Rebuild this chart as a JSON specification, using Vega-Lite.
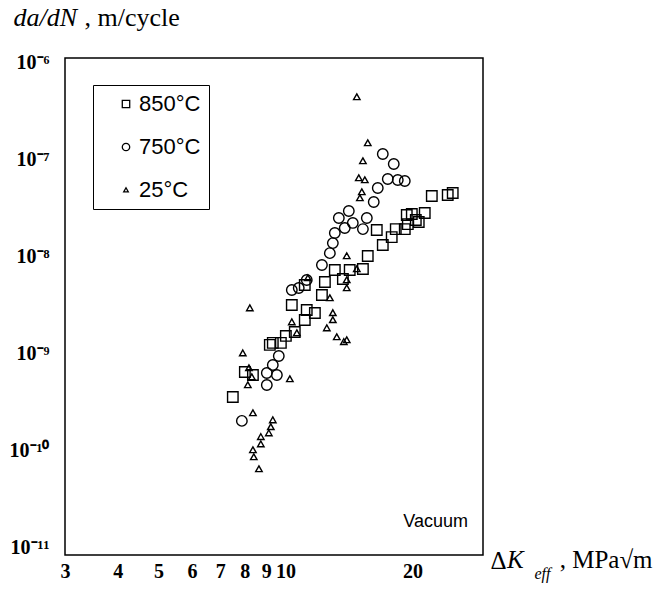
{
  "$schema": "https://vega.github.io/schema/vega-lite/v6.json",
  "width": 418,
  "height": 497,
  "autosize": {"type": "none"},
  "padding": {"left": 65, "top": 58, "right": 184, "bottom": 40},
  "background": "white",
  "config": {
    "view": {"stroke": "black", "strokeWidth": 1.5},
    "axis": {"grid": false, "domain": false, "ticks": false}
  },
  "resolve": {"axis": {"x": "independent", "y": "independent"}},
  "layer": [
    {
      "data": {"values": [
        {"dk": 7.50, "dadn": 3.58e-10, "t": "850°C"},
        {"dk": 8.01, "dadn": 6.47e-10, "t": "850°C"},
        {"dk": 8.37, "dadn": 6.02e-10, "t": "850°C"},
        {"dk": 9.18, "dadn": 1.23e-9, "t": "850°C"},
        {"dk": 9.33, "dadn": 1.29e-9, "t": "850°C"},
        {"dk": 9.75, "dadn": 1.29e-9, "t": "850°C"},
        {"dk": 10.02, "dadn": 1.52e-9, "t": "850°C"},
        {"dk": 10.52, "dadn": 1.67e-9, "t": "850°C"},
        {"dk": 11.11, "dadn": 2.22e-9, "t": "850°C"},
        {"dk": 11.23, "dadn": 2.81e-9, "t": "850°C"},
        {"dk": 11.74, "dadn": 2.62e-9, "t": "850°C"},
        {"dk": 10.35, "dadn": 3.16e-9, "t": "850°C"},
        {"dk": 12.20, "dadn": 4.01e-9, "t": "850°C"},
        {"dk": 11.11, "dadn": 5.08e-9, "t": "850°C"},
        {"dk": 12.40, "dadn": 5.45e-9, "t": "850°C"},
        {"dk": 13.09, "dadn": 7.25e-9, "t": "850°C"},
        {"dk": 14.20, "dadn": 7.25e-9, "t": "850°C"},
        {"dk": 15.26, "dadn": 7.42e-9, "t": "850°C"},
        {"dk": 13.68, "dadn": 5.85e-9, "t": "850°C"},
        {"dk": 15.67, "dadn": 1.01e-8, "t": "850°C"},
        {"dk": 17.01, "dadn": 1.31e-8, "t": "850°C"},
        {"dk": 16.46, "dadn": 1.87e-8, "t": "850°C"},
        {"dk": 17.86, "dadn": 1.58e-8, "t": "850°C"},
        {"dk": 18.26, "dadn": 1.91e-8, "t": "850°C"},
        {"dk": 19.18, "dadn": 1.91e-8, "t": "850°C"},
        {"dk": 19.50, "dadn": 2.15e-8, "t": "850°C"},
        {"dk": 19.39, "dadn": 2.67e-8, "t": "850°C"},
        {"dk": 19.93, "dadn": 2.73e-8, "t": "850°C"},
        {"dk": 20.37, "dadn": 2.37e-8, "t": "850°C"},
        {"dk": 20.70, "dadn": 2.26e-8, "t": "850°C"},
        {"dk": 21.39, "dadn": 2.80e-8, "t": "850°C"},
        {"dk": 22.23, "dadn": 4.18e-8, "t": "850°C"},
        {"dk": 24.25, "dadn": 4.28e-8, "t": "850°C"},
        {"dk": 24.92, "dadn": 4.49e-8, "t": "850°C"},
        {"dk": 7.88, "dadn": 2.03e-10, "t": "750°C"},
        {"dk": 9.03, "dadn": 4.75e-10, "t": "750°C"},
        {"dk": 9.03, "dadn": 6.32e-10, "t": "750°C"},
        {"dk": 9.54, "dadn": 6.02e-10, "t": "750°C"},
        {"dk": 9.33, "dadn": 7.63e-10, "t": "750°C"},
        {"dk": 9.64, "dadn": 9.45e-10, "t": "750°C"},
        {"dk": 10.35, "dadn": 4.51e-9, "t": "750°C"},
        {"dk": 10.75, "dadn": 4.73e-9, "t": "750°C"},
        {"dk": 11.23, "dadn": 5.72e-9, "t": "750°C"},
        {"dk": 12.20, "dadn": 8.15e-9, "t": "750°C"},
        {"dk": 12.74, "dadn": 1.08e-8, "t": "750°C"},
        {"dk": 12.95, "dadn": 1.37e-8, "t": "750°C"},
        {"dk": 13.09, "dadn": 1.74e-8, "t": "750°C"},
        {"dk": 13.38, "dadn": 2.48e-8, "t": "750°C"},
        {"dk": 13.82, "dadn": 1.96e-8, "t": "750°C"},
        {"dk": 14.13, "dadn": 2.93e-8, "t": "750°C"},
        {"dk": 14.44, "dadn": 2.21e-8, "t": "750°C"},
        {"dk": 15.26, "dadn": 1.91e-8, "t": "750°C"},
        {"dk": 15.59, "dadn": 2.48e-8, "t": "750°C"},
        {"dk": 16.19, "dadn": 3.63e-8, "t": "750°C"},
        {"dk": 16.55, "dadn": 5.05e-8, "t": "750°C"},
        {"dk": 17.01, "dadn": 1.131e-7, "t": "750°C"},
        {"dk": 18.06, "dadn": 8.92e-8, "t": "750°C"},
        {"dk": 17.48, "dadn": 6.25e-8, "t": "750°C"},
        {"dk": 18.46, "dadn": 6.11e-8, "t": "750°C"},
        {"dk": 19.18, "dadn": 5.97e-8, "t": "750°C"},
        {"dk": 14.76, "dadn": 4.36e-7, "t": "25°C"},
        {"dk": 15.67, "dadn": 1.468e-7, "t": "25°C"},
        {"dk": 15.26, "dadn": 9.58e-8, "t": "25°C"},
        {"dk": 14.92, "dadn": 6.41e-8, "t": "25°C"},
        {"dk": 15.42, "dadn": 6.11e-8, "t": "25°C"},
        {"dk": 15.17, "dadn": 4.60e-8, "t": "25°C"},
        {"dk": 15.01, "dadn": 3.99e-8, "t": "25°C"},
        {"dk": 13.97, "dadn": 1.01e-8, "t": "25°C"},
        {"dk": 14.76, "dadn": 7.42e-9, "t": "25°C"},
        {"dk": 13.97, "dadn": 5.72e-9, "t": "25°C"},
        {"dk": 13.97, "dadn": 4.73e-9, "t": "25°C"},
        {"dk": 12.74, "dadn": 3.73e-9, "t": "25°C"},
        {"dk": 11.30, "dadn": 5.99e-9, "t": "25°C"},
        {"dk": 12.95, "dadn": 2.62e-9, "t": "25°C"},
        {"dk": 12.95, "dadn": 2.22e-9, "t": "25°C"},
        {"dk": 12.53, "dadn": 1.83e-9, "t": "25°C"},
        {"dk": 13.23, "dadn": 1.48e-9, "t": "25°C"},
        {"dk": 13.97, "dadn": 1.38e-9, "t": "25°C"},
        {"dk": 13.75, "dadn": 1.32e-9, "t": "25°C"},
        {"dk": 10.35, "dadn": 2.11e-9, "t": "25°C"},
        {"dk": 10.64, "dadn": 1.63e-9, "t": "25°C"},
        {"dk": 8.23, "dadn": 2.94e-9, "t": "25°C"},
        {"dk": 7.92, "dadn": 1.01e-9, "t": "25°C"},
        {"dk": 8.19, "dadn": 7.11e-10, "t": "25°C"},
        {"dk": 8.32, "dadn": 5.74e-10, "t": "25°C"},
        {"dk": 8.14, "dadn": 4.75e-10, "t": "25°C"},
        {"dk": 10.24, "dadn": 5.48e-10, "t": "25°C"},
        {"dk": 8.37, "dadn": 2.45e-10, "t": "25°C"},
        {"dk": 9.33, "dadn": 2.07e-10, "t": "25°C"},
        {"dk": 9.23, "dadn": 1.76e-10, "t": "25°C"},
        {"dk": 9.13, "dadn": 1.52e-10, "t": "25°C"},
        {"dk": 8.74, "dadn": 1.39e-10, "t": "25°C"},
        {"dk": 8.74, "dadn": 1.17e-10, "t": "25°C"},
        {"dk": 8.37, "dadn": 1.02e-10, "t": "25°C"},
        {"dk": 8.41, "dadn": 8.64e-11, "t": "25°C"},
        {"dk": 8.65, "dadn": 6.50e-11, "t": "25°C"}
      ]},
      "mark": {"type": "point", "filled": false, "color": "black", "strokeWidth": 1.4, "opacity": 1, "size": 110},
      "encoding": {
        "x": {
          "field": "dk", "type": "quantitative",
          "scale": {"type": "log", "domain": [3, 29.4], "nice": false},
          "axis": {
            "orient": "bottom",
            "values": [3, 4, 5, 6, 7, 8, 9, 10, 20],
            "labelExpr": "format(datum.value, 'd')",
            "labelFont": "Liberation Serif", "labelFontWeight": "bold", "labelFontSize": 20,
            "labelColor": "black", "labelPadding": 6, "labelFlush": false, "labelOverlap": false,
            "title": "Δ", "titleFont": "Liberation Serif", "titleFontWeight": "normal",
            "titleFontSize": 25, "titleColor": "black", "titleAngle": 0, "titleAlign": "left",
            "titleBaseline": "alphabetic", "titleX": 425, "titleY": 13
          }
        },
        "y": {
          "field": "dadn", "type": "quantitative",
          "scale": {"type": "log", "domain": [8.47e-12, 1.0995e-6], "nice": false},
          "axis": {
            "orient": "left",
            "values": [1e-11, 1e-10, 1e-9, 1e-8, 1e-7, 1e-6],
            "labelExpr": "datum.value < 3e-11 ? '10⁻¹¹' : datum.value < 3e-10 ? '10⁻¹⁰' : datum.value < 3e-9 ? '10⁻⁹' : datum.value < 3e-8 ? '10⁻⁸' : datum.value < 3e-7 ? '10⁻⁷' : '10⁻⁶'",
            "labelFont": "Liberation Serif", "labelFontWeight": "bold", "labelFontSize": 20,
            "labelColor": "black", "labelPadding": 16, "labelFlush": false, "labelOverlap": false,
            "title": "da/dN", "titleFont": "Liberation Serif", "titleFontStyle": "italic",
            "titleFontWeight": "normal", "titleFontSize": 26, "titleColor": "black",
            "titleAngle": 0, "titleAlign": "left", "titleBaseline": "alphabetic",
            "titleX": -52, "titleY": -33
          }
        },
        "shape": {
          "field": "t", "type": "nominal",
          "scale": {"domain": ["850°C", "750°C", "25°C"], "range": ["square", "circle", "M0,-0.6L0.62,0.5L-0.62,0.5Z"]},
          "legend": {
            "orient": "none", "legendX": 28, "legendY": 27, "title": null,
            "strokeColor": "black", "padding": 8, "rowPadding": 21,
            "symbolSize": 55, "symbolStrokeWidth": 1.3, "symbolStrokeColor": "black",
            "symbolFillColor": "white", "symbolOffset": 14, "labelOffset": 2,
            "labelFont": "Liberation Sans", "labelFontSize": 22, "labelColor": "black", "labelLimit": 200
          }
        }
      }
    },
    {
      "data": {"values": [{"dk": 22.7, "dadn": 1.85e-11, "lab": "Vacuum"}]},
      "mark": {"type": "text", "font": "Liberation Sans", "fontSize": 18, "color": "black", "align": "center", "baseline": "middle"},
      "encoding": {
        "x": {
          "field": "dk", "type": "quantitative",
          "scale": {"type": "log", "domain": [3, 29.4], "nice": false},
          "axis": {
            "orient": "top", "labels": false,
            "title": "eff", "titleFont": "Liberation Serif", "titleFontStyle": "italic",
            "titleFontWeight": "normal", "titleFontSize": 16, "titleColor": "black",
            "titleAngle": 0, "titleAlign": "left", "titleBaseline": "alphabetic",
            "titleX": 469, "titleY": 520
          }
        },
        "y": {
          "field": "dadn", "type": "quantitative",
          "scale": {"type": "log", "domain": [8.47e-12, 1.0995e-6], "nice": false},
          "axis": {
            "orient": "right", "labels": false,
            "title": ", m/cycle", "titleFont": "Liberation Serif", "titleFontWeight": "normal",
            "titleFontSize": 26, "titleColor": "black", "titleAngle": 0, "titleAlign": "left",
            "titleBaseline": "alphabetic", "titleX": -399, "titleY": -33
          }
        },
        "text": {"field": "lab"}
      }
    },
    {
      "data": {"values": [{"dk": 33.5, "dadn": 6.22e-12, "lab": "K"}]},
      "mark": {"type": "text", "font": "Liberation Serif", "fontStyle": "italic", "fontSize": 25, "color": "black", "align": "left", "baseline": "alphabetic"},
      "encoding": {
        "x": {"field": "dk", "type": "quantitative", "scale": {"type": "log", "domain": [3, 29.4], "nice": false}, "axis": null},
        "y": {"field": "dadn", "type": "quantitative", "scale": {"type": "log", "domain": [8.47e-12, 1.0995e-6], "nice": false}, "axis": null},
        "text": {"field": "lab"}
      }
    },
    {
      "data": {"values": [{"dk": 44.68, "dadn": 6.22e-12, "lab": ", MPa√m"}]},
      "mark": {"type": "text", "font": "Liberation Serif", "fontSize": 25, "color": "black", "align": "left", "baseline": "alphabetic"},
      "encoding": {
        "x": {"field": "dk", "type": "quantitative", "scale": {"type": "log", "domain": [3, 29.4], "nice": false}, "axis": null},
        "y": {"field": "dadn", "type": "quantitative", "scale": {"type": "log", "domain": [8.47e-12, 1.0995e-6], "nice": false}, "axis": null},
        "text": {"field": "lab"}
      }
    }
  ]
}
